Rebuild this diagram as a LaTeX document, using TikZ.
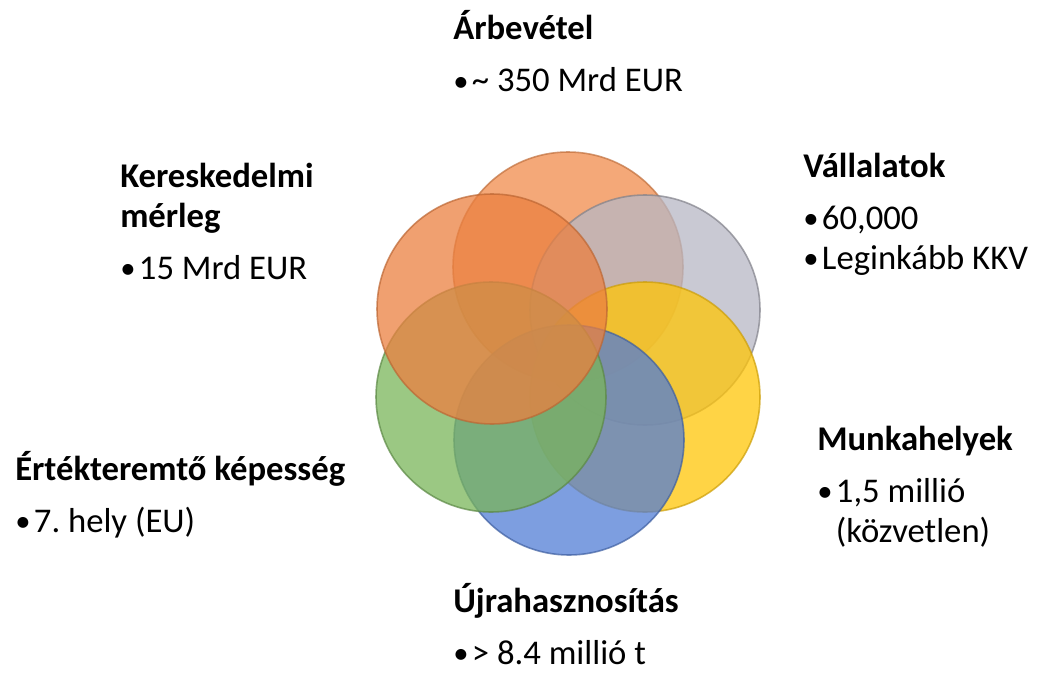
\documentclass[tikz,border=0pt]{standalone}
\usepackage{fontspec}
\setmainfont{Carlito}
\frenchspacing
\definecolor{toporange}{RGB}{240,139,75}
\definecolor{leftorange}{RGB}{235,128,64}
\definecolor{ringgray}{RGB}{183,183,196}
\definecolor{ringyellow}{RGB}{255,197,7}
\definecolor{ringblue}{RGB}{82,125,213}
\definecolor{ringgreen}{RGB}{121,181,90}
\tikzset{
	ring/.style={
		circle,
		minimum size=172.5pt,
		fill opacity=0.75,
		draw opacity=0.7,
		line width=1.2pt
	}
}
\newcommand{\pont}{\makebox[14pt][l]{\raisebox{0.5pt}{\fontsize{23}{23}\selectfont\textbullet}}}

\begin{document}
\begin{tikzpicture}[x=0.75pt,y=-0.75pt]
		\tikzstyle{blurb}=[anchor=base west, inner sep=0pt, font=\fontsize{26}{30}\selectfont]
		\useasboundingbox (0,0) rectangle (1041,692);
		\node[ring, fill=toporange, draw=toporange!80!black] (top) at (568,267) {};
		\node[ring, fill=ringgray, draw=ringgray!70!black] (gray) at (645,310) {};
		\node[ring, fill=ringyellow, draw=ringyellow!80!black] (yellow) at (645,397) {};
		\node[ring, fill=ringblue, draw=ringblue!75!black] (blue) at (569,440) {};
		\node[ring, fill=ringgreen, draw=ringgreen!75!black] (green) at (491,397) {};
		\node[ring, fill=leftorange, draw=leftorange!80!black] (left) at (492,309) {};
		
		\node[blurb] (arbevetel) at (453,40) {\begin{tabular}[t]{@{}l@{}}\textbf{Árbevétel}\\[9pt] \pont\textasciitilde{} 350 Mrd EUR\end{tabular}};
		\node[blurb] (vallalatok) at (803,177) {\begin{tabular}[t]{@{}l@{}}\textbf{Vállalatok}\\[9pt] \pont 60,000\\ \pont Leginkább KKV\end{tabular}};
		\node[blurb] (munka) at (817,450) {\begin{tabular}[t]{@{}l@{}}\textbf{Munkahelyek}\\[9pt] \pont 1,5 millió\\ \hspace{14pt}(közvetlen)\end{tabular}};
		\node[blurb] (ujra) at (453,612) {\begin{tabular}[t]{@{}l@{}}\textbf{Újrahasznosítás}\\[9pt] \pont> 8.4 millió t\end{tabular}};
		\node[blurb] (ertek) at (15,480) {\begin{tabular}[t]{@{}l@{}}\textbf{Értékteremtő képesség}\\[9pt] \pont 7. hely (EU)\end{tabular}};
		\node[blurb] (keresk) at (120,187) {\begin{tabular}[t]{@{}l@{}}\textbf{Kereskedelmi}\\ \textbf{mérleg}\\[9pt] \pont 15 Mrd EUR\end{tabular}};
		
		\end{tikzpicture}
\end{document}
